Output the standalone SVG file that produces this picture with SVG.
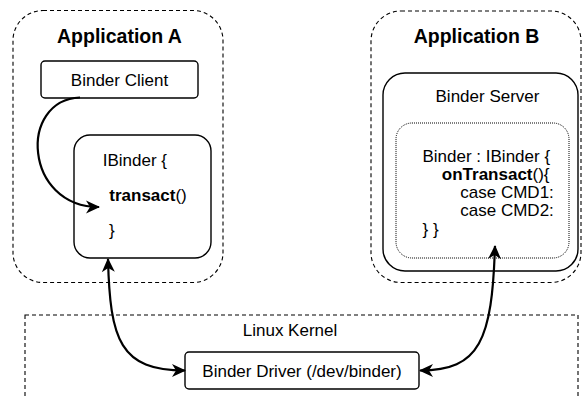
<svg xmlns="http://www.w3.org/2000/svg" width="582" height="399" viewBox="0 0 582 399">
  <style>
    .txt { font-family: "Liberation Sans", Arial, Helvetica, sans-serif; font-size: 17px; fill: #000; }
    .title { font-weight: bold; font-size: 19.5px; }
    .b { font-weight: bold; }
    .group { fill: none; stroke: #000; stroke-width: 1.1; stroke-dasharray: 4 3; }
    .box { fill: #fff; stroke: #000; stroke-width: 1.4; }
    .dotted { fill: none; stroke: #000; stroke-width: 1; stroke-dasharray: 1 1; }
    .edge { fill: none; stroke: #000; stroke-width: 2.2; }
  </style>
  <defs>
    <marker id="arrow" markerUnits="userSpaceOnUse" markerWidth="16" markerHeight="14" viewBox="0 0 16 14" refX="14" refY="7" orient="auto-start-reverse">
      <path d="M1,0.5 L15,7 L1,13.5 L5,7 Z" fill="#000"/>
    </marker>
  </defs>

  <rect width="582" height="399" fill="#fff"/>

  <!-- Application A container -->
  <g id="app-a">
    <rect class="group" x="13" y="10.5" width="210" height="272" rx="30" ry="30"/>
    <text class="txt title" x="119.5" y="43" text-anchor="middle">Application A</text>
  </g>

  <g id="binder-client">
    <rect class="box" x="41" y="61" width="157" height="37" rx="4" ry="4"/>
    <text class="txt" x="119.5" y="86" text-anchor="middle">Binder Client</text>
  </g>

  <g id="ibinder">
    <rect class="box" x="74" y="135" width="137" height="123" rx="16" ry="16"/>
    <text class="txt" x="102.7" y="166">IBinder {</text>
    <text class="txt" x="109.3" y="200.5"><tspan class="b">transact</tspan>()</text>
    <text class="txt" x="109" y="235.5">}</text>
  </g>

  <!-- Application B container -->
  <g id="app-b">
    <rect class="group" x="371" y="11" width="210" height="271.5" rx="30" ry="30"/>
    <text class="txt title" x="476.5" y="43" text-anchor="middle">Application B</text>
  </g>

  <g id="binder-server">
    <rect class="box" x="383" y="73" width="195" height="198" rx="22" ry="22"/>
    <text class="txt" x="487.5" y="102" text-anchor="middle">Binder Server</text>
    <rect class="dotted" x="396" y="123" width="173" height="135" rx="16" ry="16"/>
    <text class="txt" x="422.5" y="162">Binder : IBinder {</text>
    <text class="txt" x="441.8" y="180"><tspan class="b">onTransact</tspan>(){</text>
    <text class="txt" x="460.3" y="198">case CMD1:</text>
    <text class="txt" x="460.3" y="216">case CMD2:</text>
    <text class="txt" x="422.5" y="234.5">} }</text>
  </g>

  <!-- Kernel space -->
  <g id="linux-kernel">
    <rect class="group" x="25" y="315" width="553" height="100"/>
    <text class="txt" x="290" y="335.5" text-anchor="middle">Linux Kernel</text>
  </g>

  <g id="binder-driver">
    <rect class="box" x="185" y="352" width="234" height="37" rx="4" ry="4"/>
    <text class="txt" x="302" y="376.5" text-anchor="middle">Binder Driver (/dev/binder)</text>
  </g>

  <!-- Connectors -->
  <g id="connectors">
    <path class="edge" d="M80,97.5 C18,100 24,207 99,207" marker-end="url(#arrow)"/>
    <path class="edge" d="M108,259 C110,340 120,370.5 185,370.5" marker-start="url(#arrow)" marker-end="url(#arrow)"/>
    <path class="edge" d="M495,246 C492,340 480,370.5 420,370.5" marker-start="url(#arrow)" marker-end="url(#arrow)"/>
  </g>
</svg>
